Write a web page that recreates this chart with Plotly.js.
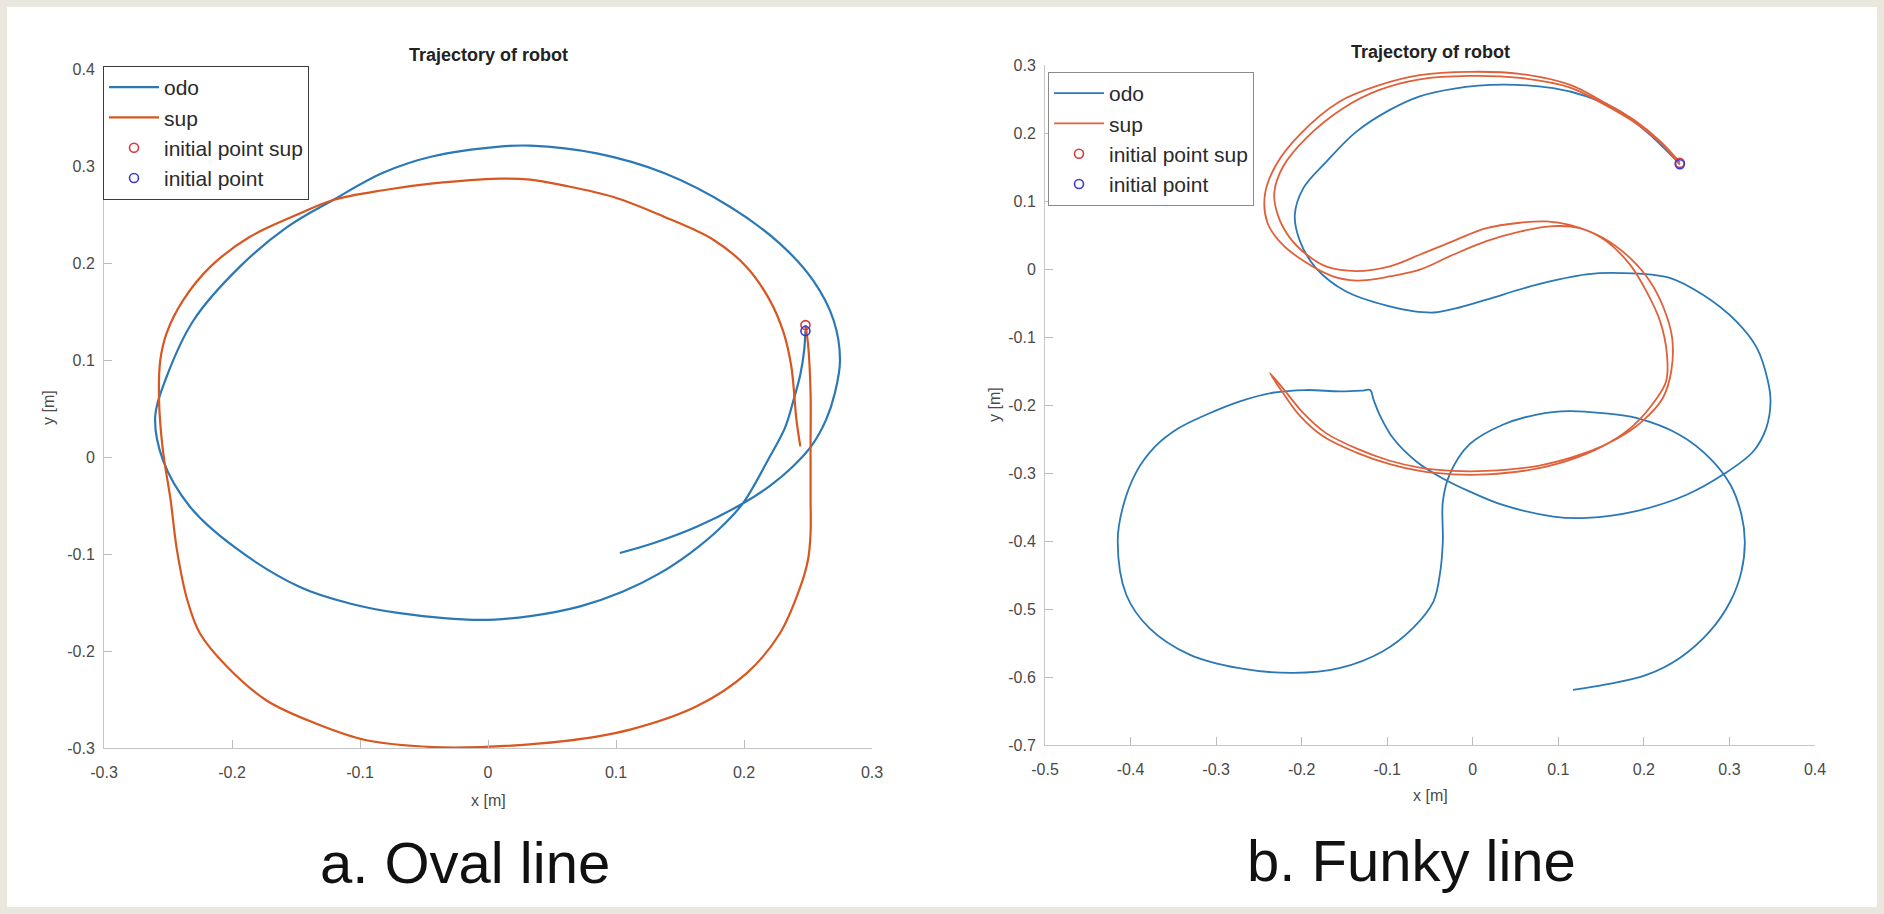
<!DOCTYPE html>
<html>
<head>
<meta charset="utf-8">
<script src="https://cdn.plot.ly/plotly-3.0.1.min.js"></script>
<style>
  html, body { margin: 0; padding: 0; background: #eae7de; }
  #chart { width: 1884px; height: 914px; }
</style>
</head>
<body>
<div id="chart"></div>
<script>
// ---------- Oval line (a) ----------
const ovalOdoX = [0.248,0.247,0.244,0.239,0.232,0.220,0.199,0.180,0.158,0.134,0.105,0.072,0.033,-0.006,-0.069,-0.108,-0.147,-0.199,-0.233,-0.254,-0.260,-0.251,-0.230,-0.194,-0.157,-0.121,-0.082,-0.043,0.009,0.033,0.085,0.137,0.189,0.228,0.254,0.270,0.275,0.271,0.264,0.253,0.238,0.220,0.199,0.163,0.129,0.103];
const ovalOdoY = [0.130,0.110,0.085,0.060,0.030,0.000,-0.048,-0.075,-0.099,-0.120,-0.139,-0.154,-0.164,-0.168,-0.161,-0.151,-0.134,-0.092,-0.051,-0.003,0.042,0.083,0.141,0.196,0.237,0.265,0.293,0.310,0.320,0.321,0.313,0.293,0.258,0.220,0.182,0.141,0.100,0.066,0.038,0.012,-0.010,-0.030,-0.048,-0.072,-0.089,-0.099];
const ovalSupX = [0.248,0.250,0.252,0.252,0.252,0.252,0.250,0.244,0.228,0.202,0.163,0.111,0.059,-0.006,-0.043,-0.095,-0.134,-0.173,-0.204,-0.225,-0.235,-0.243,-0.248,-0.254,-0.257,-0.256,-0.251,-0.238,-0.217,-0.186,-0.147,-0.121,-0.082,-0.043,0.009,0.033,0.059,0.098,0.137,0.176,0.202,0.220,0.231,0.237,0.241,0.244];
const ovalSupY = [0.136,0.117,0.066,0.010,-0.040,-0.079,-0.106,-0.134,-0.182,-0.223,-0.257,-0.281,-0.293,-0.299,-0.299,-0.292,-0.275,-0.251,-0.216,-0.182,-0.147,-0.096,-0.044,0.007,0.059,0.100,0.128,0.162,0.196,0.227,0.251,0.265,0.275,0.282,0.287,0.286,0.280,0.268,0.248,0.224,0.196,0.162,0.128,0.093,0.038,0.011];
const ovalInitSup = [0.248, 0.136];
const ovalInit = [0.248, 0.130];

// ---------- Funky line (b) ----------
const funkyOdoX = [0.242,0.211,0.172,0.133,0.094,0.035,-0.023,-0.062,-0.097,-0.136,-0.171,-0.198,-0.208,-0.202,-0.183,-0.148,-0.097,-0.070,-0.045,-0.020,0.016,0.075,0.133,0.172,0.230,0.269,0.308,0.332,0.345,0.348,0.343,0.328,0.293,0.250,0.191,0.133,0.094,0.035,-0.004,-0.035,-0.066,-0.093,-0.109,-0.116,-0.120,-0.130,-0.156,-0.195,-0.234,-0.273,-0.311,-0.345,-0.372,-0.393,-0.409,-0.415,-0.405,-0.378,-0.331,-0.273,-0.210,-0.156,-0.105,-0.070,-0.046,-0.038,-0.035,-0.035,-0.027,-0.004,0.035,0.075,0.113,0.152,0.191,0.242,0.277,0.301,0.314,0.318,0.314,0.301,0.277,0.242,0.203,0.156,0.117];
const funkyOdoY = [0.154,0.193,0.232,0.254,0.266,0.271,0.265,0.254,0.234,0.202,0.158,0.119,0.080,0.041,0.001,-0.033,-0.055,-0.062,-0.064,-0.058,-0.045,-0.023,-0.008,-0.006,-0.013,-0.038,-0.077,-0.116,-0.165,-0.195,-0.234,-0.268,-0.302,-0.332,-0.356,-0.366,-0.364,-0.347,-0.327,-0.308,-0.283,-0.249,-0.214,-0.192,-0.178,-0.179,-0.180,-0.178,-0.182,-0.195,-0.214,-0.235,-0.262,-0.298,-0.350,-0.401,-0.479,-0.528,-0.567,-0.587,-0.594,-0.587,-0.562,-0.528,-0.489,-0.445,-0.400,-0.342,-0.302,-0.258,-0.229,-0.214,-0.209,-0.212,-0.219,-0.244,-0.278,-0.317,-0.361,-0.401,-0.445,-0.489,-0.533,-0.572,-0.597,-0.611,-0.619];
const funkySupX = [0.242,0.219,0.191,0.152,0.113,0.055,-0.004,-0.062,-0.110,-0.156,-0.202,-0.230,-0.243,-0.240,-0.224,-0.198,-0.165,-0.136,-0.097,-0.062,-0.023,0.016,0.055,0.094,0.125,0.156,0.184,0.203,0.219,0.227,0.226,0.214,0.188,0.160,0.122,0.073,0.016,-0.023,-0.062,-0.097,-0.136,-0.175,-0.202,-0.222,-0.237,
  -0.219,-0.198,-0.172,-0.134,-0.097,-0.062,-0.023,0.016,0.078,0.128,0.168,0.198,0.222,0.232,0.233,0.223,0.207,0.184,0.152,0.113,0.086,0.055,0.016,-0.023,-0.062,-0.097,-0.136,-0.170,-0.195,-0.215,-0.228,-0.232,-0.222,-0.195,-0.152,-0.110,-0.062,-0.004,0.055,0.113,0.152,0.191,0.219,0.242];
const funkySupY = [0.157,0.188,0.217,0.246,0.271,0.287,0.290,0.285,0.270,0.246,0.198,0.153,0.109,0.068,0.038,0.012,-0.010,-0.017,-0.011,-0.001,0.021,0.041,0.055,0.063,0.060,0.041,0.006,-0.033,-0.077,-0.126,-0.165,-0.192,-0.230,-0.255,-0.277,-0.294,-0.302,-0.302,-0.297,-0.287,-0.270,-0.246,-0.216,-0.182,-0.153,
  -0.180,-0.212,-0.241,-0.265,-0.282,-0.292,-0.297,-0.297,-0.289,-0.272,-0.250,-0.224,-0.190,-0.150,-0.101,-0.057,-0.018,0.016,0.046,0.065,0.070,0.068,0.060,0.041,0.021,0.004,-0.003,0.003,0.022,0.048,0.080,0.112,0.150,0.192,0.236,0.263,0.279,0.284,0.281,0.267,0.243,0.214,0.186,0.154];
const funkyInitSup = [0.242, 0.156];
const funkyInit = [0.242, 0.154];

// ---------- ticks and texts ----------
const ovalXTicks = [-0.3,-0.2,-0.1,0,0.1,0.2,0.3];
const ovalXLabels = ['-0.3','-0.2','-0.1','0','0.1','0.2','0.3'];
const ovalYTicks = [-0.3,-0.2,-0.1,0,0.1,0.2,0.3,0.4];
const ovalYLabels = ['-0.3','-0.2','-0.1','0','0.1','0.2','0.3','0.4'];
const funkyXTicks = [-0.5,-0.4,-0.3,-0.2,-0.1,0,0.1,0.2,0.3,0.4];
const funkyXLabels = ['-0.5','-0.4','-0.3','-0.2','-0.1','0','0.1','0.2','0.3','0.4'];
const funkyYTicks = [-0.7,-0.6,-0.5,-0.4,-0.3,-0.2,-0.1,0,0.1,0.2,0.3];
const funkyYLabels = ['-0.7','-0.6','-0.5','-0.4','-0.3','-0.2','-0.1','0','0.1','0.2','0.3'];
const seriesNames = ['odo','sup','initial point sup','initial point'];
const plotTitle = 'Trajectory of robot';
const captions = ['a. Oval line','b. Funky line'];

// ---------- styling ----------
const W = 1884, H = 914;
const px = v => v / W;
const py = v => 1 - v / H;
const BLUE = '#2a78b6', ORANGE = '#d8561f', RED = '#d83a3a', PBLUE = '#3b3bd0';
const FONT = 'Liberation Sans, Arial, Helvetica, sans-serif';

function lineTrace(x, y, name, color, width, xa, ya, legend) {
  return {x, y, name, type: 'scatter', mode: 'lines', xaxis: xa, yaxis: ya, legend,
          line: {color, width, shape: 'spline', smoothing: 1}, hoverinfo: 'skip'};
}
function pointTrace(p, name, color, xa, ya, legend) {
  return {x: [p[0]], y: [p[1]], name, type: 'scatter', mode: 'markers', xaxis: xa, yaxis: ya, legend,
          marker: {symbol: 'circle-open', size: 9, color, line: {color, width: 1.6}}, hoverinfo: 'skip'};
}

const data = [
  lineTrace(ovalOdoX, ovalOdoY, seriesNames[0], BLUE, 2.2, 'x', 'y', 'legend'),
  lineTrace(ovalSupX, ovalSupY, seriesNames[1], ORANGE, 2.2, 'x', 'y', 'legend'),
  pointTrace(ovalInitSup, seriesNames[2], RED, 'x', 'y', 'legend'),
  pointTrace(ovalInit, seriesNames[3], PBLUE, 'x', 'y', 'legend'),
  lineTrace(funkyOdoX, funkyOdoY, seriesNames[0], BLUE, 1.8, 'x2', 'y2', 'legend2'),
  lineTrace(funkySupX, funkySupY, seriesNames[1], '#e0603a', 1.8, 'x2', 'y2', 'legend2'),
  pointTrace(funkyInitSup, seriesNames[2], RED, 'x2', 'y2', 'legend2'),
  pointTrace(funkyInit, seriesNames[3], PBLUE, 'x2', 'y2', 'legend2')
];

function axis(domain, range, tickvals, ticktext, anchor, standoff) {
  return {domain, range, tickvals, ticktext, anchor, tickmode: 'array',
          ticks: 'inside', ticklen: 8, tickwidth: 1, tickcolor: '#bcbcbc',
          showline: true, linecolor: '#c6c6c6', linewidth: 1, mirror: false,
          showgrid: false, zeroline: false, fixedrange: true,
          ticklabelstandoff: standoff,
          tickfont: {family: FONT, size: 16, color: '#4a4a4a'}};
}

function legendBox(x, y, border) {
  return {x, y, xanchor: 'left', yanchor: 'top', bgcolor: '#ffffff',
          bordercolor: border, borderwidth: 1, itemwidth: 50, tracegroupgap: 0,
          font: {family: FONT, size: 21, color: '#2a2a2a'}};
}

function note(text, x, y, size, opts) {
  return Object.assign({text, x: px(x), y: py(y), xref: 'paper', yref: 'paper', showarrow: false,
          xanchor: 'center', yanchor: 'middle',
          font: {family: FONT, size, color: '#2b2b2b'}}, opts || {});
}

const layout = {
  width: W, height: H,
  margin: {l: 0, r: 0, t: 0, b: 0},
  paper_bgcolor: '#eae7de',
  plot_bgcolor: '#ffffff',
  showlegend: true,
  xaxis: axis([px(104), px(872)], [-0.3, 0.3], ovalXTicks, ovalXLabels, 'y', 10),
  yaxis: axis([py(748), py(69)], [-0.3, 0.4], ovalYTicks, ovalYLabels, 'x', 5),
  xaxis2: axis([px(1045), px(1815)], [-0.5, 0.4], funkyXTicks, funkyXLabels, 'y2', 10),
  yaxis2: axis([py(745), py(65)], [-0.7, 0.3], funkyYTicks, funkyYLabels, 'x2', 5),
  legend: legendBox(px(103), py(66), '#3c3c3c'),
  legend2: legendBox(px(1048), py(72), '#8a8a8a'),
  shapes: [{type: 'rect', xref: 'paper', yref: 'paper', x0: px(7), x1: px(1877), y0: py(907), y1: py(7),
            fillcolor: '#ffffff', line: {width: 0}, layer: 'below'}],
  annotations: [
    note('<b>' + plotTitle + '</b>', 488, 55, 18, {font: {family: FONT, size: 18, color: '#222'}}),
    note('<b>' + plotTitle + '</b>', 1430, 52, 18, {font: {family: FONT, size: 18, color: '#222'}}),
    note('x [m]', 488, 800, 16, {font: {family: FONT, size: 16, color: '#4a4a4a'}}),
    note('x [m]', 1430, 795, 16, {font: {family: FONT, size: 16, color: '#4a4a4a'}}),
    note('y [m]', 49, 408, 16, {textangle: -90, font: {family: FONT, size: 16, color: '#4a4a4a'}}),
    note('y [m]', 994, 405, 16, {textangle: -90, font: {family: FONT, size: 16, color: '#4a4a4a'}}),
    note(captions[0], 465, 862, 58, {font: {family: FONT, size: 58, color: '#111'}}),
    note(captions[1], 1411, 860, 58, {font: {family: FONT, size: 58, color: '#111'}})
  ]
};

Plotly.newPlot('chart', data, layout, {displayModeBar: false, staticPlot: true});
</script>
</body>
</html>
